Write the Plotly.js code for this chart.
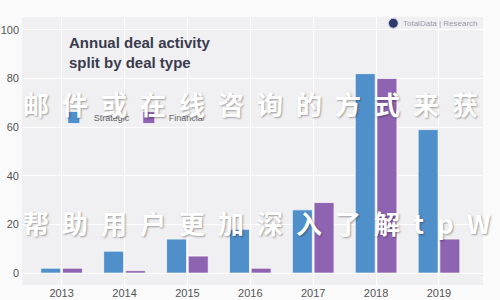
<!DOCTYPE html>
<html>
<head>
<meta charset="utf-8">
<script src="https://cdn.plot.ly/plotly-3.0.1.min.js"></script>
<style>html,body{margin:0;padding:0;background:#fafafa;}#chart{width:500px;height:300px;}</style>
</head>
<body>
<div id="chart"></div>
<script>
const years = ['2013','2014','2015','2016','2017','2018','2019'];
const strategic = [2, 9, 14, 18, 26, 82, 59];
const financial = [2, 1, 7, 2, 29, 80, 14];
const yTicks = [0, 20, 40, 60, 80, 100];
const seriesNames = ['Strategic', 'Financial'];
const chartTitle = 'Annual deal activity<br>split by deal type';
const watermark1 = '邮件或在线咨询的方式来获';
const watermark2 = '帮助用户更加深入了解tpW';
const brand = 'TotalData | Research';

const spaced = s => s.split('').join('\u2002');

const traces = [
  {type:'bar', name:seriesNames[0], x:years, y:strategic,
   marker:{color:'#4f8fca', line:{color:'rgba(255,255,255,0.7)', width:1}}},
  {type:'bar', name:seriesNames[1], x:years, y:financial,
   marker:{color:'#8e63b2', line:{color:'rgba(255,255,255,0.7)', width:1}}}
];

const layout = {
  width:500, height:300,
  margin:{l:22, r:17, t:17, b:15},
  paper_bgcolor:'#fafafa',
  plot_bgcolor:'#f0f0f2',
  barmode:'group', bargap:0.31, bargroupgap:0.08,
  font:{family:'Liberation Sans, Arial, sans-serif', color:'#555', size:11},
  showlegend:true,
  legend:{orientation:'h', x:0.069, y:0.625, xanchor:'left', yanchor:'middle',
          bgcolor:'rgba(0,0,0,0)', font:{size:9, color:'#666'},
          entrywidth:30, entrywidthmode:'pixels'},
  xaxis:{type:'category', range:[-0.63, 6.7], showgrid:true, gridcolor:'#ffffff', gridwidth:1,
         zeroline:false, showline:false, ticks:'', tickfont:{size:11, color:'#555'}, fixedrange:true},
  yaxis:{range:[-4.9, 105.3], tickvals:yTicks, showgrid:true, gridcolor:'#ffffff', gridwidth:1,
         zeroline:false, showline:false, ticks:'', ticklabelstandoff:2, tickfont:{size:11, color:'#555'}},
  shapes:[
    {type:'circle', xref:'paper', yref:'paper', x0:0.795, x1:0.816, y0:0.958, y1:0.995,
     fillcolor:'#2e3a6e', line:{color:'#c8cce0', width:1}}
  ],
  annotations:[
    {xref:'paper', yref:'paper', x:0.098, y:0.945, xanchor:'left', yanchor:'top', align:'left',
     text:'<b>'+chartTitle+'</b>', showarrow:false,
     font:{family:'Liberation Sans, Arial, sans-serif', size:15, color:'#3a3b4c'}},
    {xref:'paper', yref:'paper', x:0.823, y:0.977, xanchor:'left', yanchor:'middle',
     text:brand, showarrow:false, font:{size:8, color:'#9a9aa8'}},
    {xref:'paper', yref:'paper', x:-0.002, y:0.677, xanchor:'left', yanchor:'middle',
     text:'<b>'+spaced(watermark1)+'</b>', showarrow:false,
     font:{family:'Noto Sans CJK SC', size:26, color:'#ffffff', shadow:'1px 1px 2px rgba(0,0,0,0.35)'}},
    {xref:'paper', yref:'paper', x:-0.002, y:0.235, xanchor:'left', yanchor:'middle',
     text:'<b>'+spaced(watermark2)+'</b>', showarrow:false,
     font:{family:'Noto Sans CJK SC', size:26, color:'#ffffff', shadow:'1px 1px 2px rgba(0,0,0,0.35)'}}
  ]
};

Plotly.newPlot('chart', traces, layout, {displayModeBar:false, staticPlot:true});
</script>
</body>
</html>
